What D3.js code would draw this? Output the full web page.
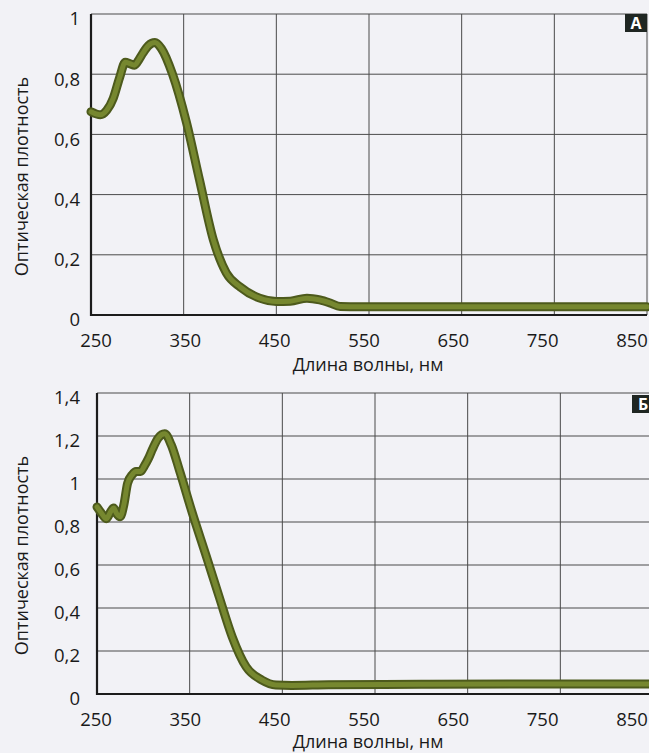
<!DOCTYPE html>
<html>
<head>
<meta charset="utf-8" />
<title>Спектры</title>
<script src="https://d3js.org/d3.v7.min.js"></script>
<style>
  body { margin: 0; background: #f2f2f6; }
  svg { display: block; font-family: "Open Sans", "Noto Sans", sans-serif; }
  .grid line { stroke: #4a4a4a; stroke-width: 1; }
  .tick-label { font-size: 18.5px; fill: #1a1a1a; }
  .title { font-size: 18px; fill: #1a1a1a; }
</style>
</head>
<body>
<svg width="649" height="753"></svg>
<script>
// wavelength ticks (nm)
var xTicks = [250, 350, 450, 550, 650, 750, 850];

// panel A
var ticksA = [0, 0.2, 0.4, 0.6, 0.8, 1];
var nmA  = [250, 260, 267, 274, 281, 287, 292, 297, 302, 306, 312, 319, 326, 338, 353, 367, 382, 396, 411, 432, 450, 465, 483, 497, 508, 519, 540, 600, 700, 850];
var odA  = [0.675, 0.665, 0.68, 0.72, 0.79, 0.84, 0.835, 0.83, 0.85, 0.87, 0.895, 0.905, 0.885, 0.80, 0.64, 0.45, 0.25, 0.14, 0.093, 0.056, 0.045, 0.046, 0.056, 0.05, 0.04, 0.028, 0.027, 0.027, 0.027, 0.027];

// panel Б
var ticksB = [0, 0.2, 0.4, 0.6, 0.8, 1, 1.2, 1.4];
var nmB  = [250, 255, 260, 265, 268, 271, 275, 279, 283, 288, 292, 297, 301, 306, 310, 316, 323, 330, 339, 353, 368, 382, 396, 411, 428, 443, 460, 500, 600, 700, 850];
var odB  = [0.87, 0.84, 0.815, 0.85, 0.865, 0.84, 0.825, 0.88, 0.98, 1.02, 1.035, 1.035, 1.06, 1.1, 1.14, 1.19, 1.21, 1.16, 1.04, 0.84, 0.64, 0.45, 0.265, 0.126, 0.065, 0.042, 0.04, 0.043, 0.045, 0.046, 0.046];

var svg = d3.select("svg");
var fmt = function (v) { return String(v).replace(".", ","); };

function panel(cfg) {
    var x = d3.scaleLinear().domain([250, 850]).range([cfg.left, cfg.right]);
    var xl = d3.scaleLinear().domain([250, 850]).range([96, 632]);
    var y = d3.scaleLinear().domain([0, cfg.ymax]).range([cfg.bottom, cfg.top]);
    var g = svg.append("g");

    // grid
    var grid = g.append("g").attr("class", "grid");
    grid.selectAll("line.v").data(xTicks.slice(1)).enter().append("line")
        .attr("x1", function (d) { return x(d); }).attr("x2", function (d) { return x(d); })
        .attr("y1", cfg.top).attr("y2", cfg.bottom);
    grid.selectAll("line.h").data(cfg.yTicks.slice(1)).enter().append("line")
        .attr("x1", cfg.left).attr("x2", x(850))
        .attr("y1", function (d) { return y(d); }).attr("y2", function (d) { return y(d); });

    // axes lines
    g.append("line").attr("x1", cfg.left).attr("x2", cfg.left)
        .attr("y1", cfg.top).attr("y2", cfg.bottom + 1)
        .attr("stroke", "#1c1c1c").attr("stroke-width", 2.2);
    g.append("line").attr("x1", cfg.left - 1).attr("x2", x(850))
        .attr("y1", cfg.bottom).attr("y2", cfg.bottom)
        .attr("stroke", "#1c1c1c").attr("stroke-width", 2.2);

    // curve
    var line = d3.line()
        .x(function (d, i) { return x(cfg.nm[i]); })
        .y(function (d) { return y(d); })
        .curve(d3.curveMonotoneX);
    g.append("path").datum(cfg.od).attr("d", line)
        .attr("fill", "none").attr("stroke", "#4d5a1c").attr("stroke-width", 9)
        .attr("stroke-linejoin", "round").attr("stroke-linecap", "round");
    g.append("path").datum(cfg.od).attr("d", line)
        .attr("fill", "none").attr("stroke", "#76872f").attr("stroke-width", 5)
        .attr("stroke-linejoin", "round").attr("stroke-linecap", "round");

    // tick labels
    g.selectAll("text.xt").data(xTicks).enter().append("text")
        .attr("class", "tick-label").attr("text-anchor", "middle")
        .attr("x", function (d) { return xl(d); })
        .attr("y", cfg.bottom + 32)
        .text(function (d) { return d; });
    g.selectAll("text.yt").data(cfg.yTicks).enter().append("text")
        .attr("class", "tick-label").attr("text-anchor", "end")
        .attr("x", 80)
        .attr("y", function (d) { return y(d) + 5; })
        .attr("dy", "0.35em")
        .text(fmt);

    // titles
    g.append("text").attr("class", "title").attr("text-anchor", "middle")
        .attr("x", 368).attr("y", cfg.titleY)
        .text("Длина волны, нм");
    g.append("text").attr("class", "title").attr("text-anchor", "middle")
        .attr("transform", "translate(28," + ((cfg.top + cfg.bottom) / 2 + 12) + ") rotate(-90)")
        .text("Оптическая плотность");

    // badge
    g.append("rect").attr("x", cfg.badgeX).attr("y", cfg.badgeY)
        .attr("width", 22).attr("height", 18).attr("fill", "#1f2622");
    g.append("text").attr("x", cfg.badgeX + 11).attr("y", cfg.badgeY + 15)
        .attr("text-anchor", "middle").attr("fill", "#ffffff")
        .attr("font-size", "16px").attr("font-weight", "bold")
        .text(cfg.label);
}

panel({ left: 91, right: 647, top: 14, bottom: 315, ymax: 1, yTicks: ticksA,
        nm: nmA, od: odA, label: "A", badgeX: 625, badgeY: 14, titleY: 371 });
panel({ left: 97, right: 653, top: 393, bottom: 694, ymax: 1.4, yTicks: ticksB,
        nm: nmB, od: odB, label: "Б", badgeX: 632, badgeY: 395, titleY: 748 });
</script>
</body>
</html>
